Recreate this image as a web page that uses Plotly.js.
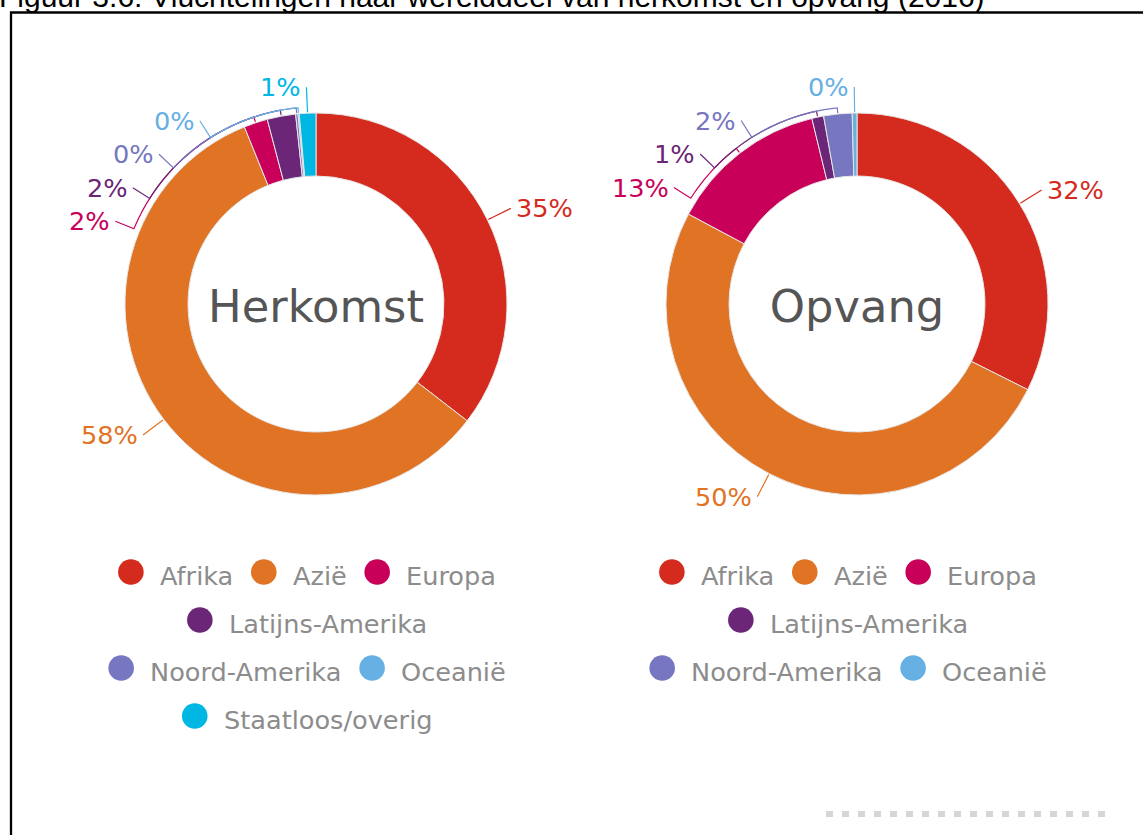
<!DOCTYPE html>
<html><head><meta charset="utf-8">
<script src="https://cdn.plot.ly/plotly-3.0.1.min.js"></script>
<style>html,body{margin:0;padding:0;background:#fff;overflow:hidden}#chart{width:1143px;height:835px}</style>
</head><body><div id="chart"></div>
<script>
// ---------------- data ----------------
const chartTitle = 'Figuur 3.6: Vluchtelingen naar werelddeel van herkomst en opvang (2016)';
const herkomstCategories = ['Afrika', 'Azië', 'Europa', 'Latijns-Amerika', 'Noord-Amerika', 'Oceanië', 'Staatloos/overig'];
const herkomstValues = [35.4, 58.3, 2.0, 2.4, 0.2, 0.1, 1.4];
const opvangCategories = ['Afrika', 'Azië', 'Europa', 'Latijns-Amerika', 'Noord-Amerika', 'Oceanië'];
const opvangValues = [32.4, 50.4, 13.4, 1.0, 2.4, 0.4];
const pieTitles = ['Herkomst', 'Opvang'];

// ---------------- styles ----------------
const colorMap = {
  'Afrika': '#d52b1e', 'Azië': '#e17325', 'Europa': '#c8005a',
  'Latijns-Amerika': '#6b2677', 'Noord-Amerika': '#7777c1',
  'Oceanië': '#66b0e4', 'Staatloos/overig': '#00b7e3'
};
const W = 1143, H = 835;
const FONT = '"DejaVu Sans", Verdana, sans-serif';
const LABEL_SIZE = 25.6, LEGEND_SIZE = 25.6, CENTER_SIZE = 44.8;
const R = 191, HOLE = 0.67, LABEL_R = R + 26, LABEL_GAP = 33.5;
const pies = [
  {cats: herkomstCategories, vals: herkomstValues, title: pieTitles[0], cx: 316, cy: 304},
  {cats: opvangCategories, vals: opvangValues, title: pieTitles[1], cx: 857, cy: 304}
];
const px = x => x / W;
const py = y => 1 - y / H;

const canvas = document.createElement('canvas');
const ctx = canvas.getContext('2d');
function textWidth(t, size) { ctx.font = size + 'px "DejaVu Sans"'; return ctx.measureText(t).width; }

const traces = [], shapes = [], annotations = [];

pies.forEach(p => {
  const colors = p.cats.map(c => colorMap[c]);
  traces.push({
    type: 'pie', labels: p.cats, values: p.vals, sort: false, direction: 'clockwise', rotation: 0,
    hole: HOLE, textinfo: 'none', hoverinfo: 'label+percent', showlegend: false,
    marker: {colors: colors, line: {color: '#e6e6e6', width: 1}},
    domain: {x: [px(p.cx - R), px(p.cx + R)], y: [py(p.cy + R), py(p.cy - R)]},
    title: {text: p.title, position: 'middle center', font: {family: FONT, size: CENTER_SIZE, color: '#555555'}}
  });

  // ---- outside percentage labels with connectors ----
  const total = p.vals.reduce((a, b) => a + b, 0);
  let cum = 0;
  const items = p.vals.map((v, i) => {
    const th = (cum + v / 2) / total * 2 * Math.PI;
    cum += v;
    return {i, th, pct: Math.round(v / total * 100) + '%', color: colors[i],
            side: Math.sin(th) >= 0 ? 1 : -1, ny: p.cy - LABEL_R * Math.cos(th)};
  });
  [1, -1].forEach(side => {
    const s = items.filter(d => d.side === side).sort((a, b) => a.ny - b.ny);
    let prev = -1e9;
    s.forEach(d => { d.y = Math.max(d.ny, prev + LABEL_GAP); prev = d.y; });
  });
  items.forEach((d, k) => {
    const dy = d.y - p.cy;
    const ax = p.cx + d.side * Math.sqrt(Math.max(0, LABEL_R * LABEL_R - dy * dy));
    const ay = d.y;
    annotations.push({
      xref: 'paper', yref: 'paper', x: px(ax + d.side * 3), y: py(ay), showarrow: false,
      xanchor: d.side > 0 ? 'left' : 'right', yanchor: 'middle',
      text: d.pct, font: {family: FONT, size: LABEL_SIZE, color: d.color}
    });
    // connector: label -> arc around donut -> slice edge
    const rr = R + 6;
    let phA = Math.atan2(ax - p.cx, p.cy - ay);
    let th = d.th;
    while (phA - th > Math.PI) phA -= 2 * Math.PI;
    while (th - phA > Math.PI) phA += 2 * Math.PI;
    const pts = [[ax, ay]];
    const steps = Math.max(1, Math.ceil(Math.abs(th - phA) / 0.03));
    for (let s = 0; s <= steps; s++) {
      const a = phA + (th - phA) * s / steps;
      pts.push([p.cx + rr * Math.sin(a), p.cy - rr * Math.cos(a)]);
    }
    pts.push([p.cx + (R + 1) * Math.sin(th), p.cy - (R + 1) * Math.cos(th)]);
    shapes.push({
      type: 'path', xref: 'paper', yref: 'paper', layer: 'above',
      path: pts.map((q, j) => (j ? 'L' : 'M') + px(q[0]) + ',' + py(q[1])).join(' '),
      line: {color: d.color, width: 1.2}
    });
  });

  // ---- legend (circles + labels), centred rows ----
  const CIRC = 25.6, TEXTGAP = 16, TRAIL = 18, MAXW = 450, ROW0 = 572, ROWH = 48;
  const rows = [[]]; let rowW = 0;
  p.cats.forEach(c => {
    const w = CIRC + TEXTGAP + textWidth(c, LEGEND_SIZE) + TRAIL;
    if (rows[rows.length - 1].length && rowW + w > MAXW) { rows.push([]); rowW = 0; }
    rows[rows.length - 1].push({c, w}); rowW += w;
  });
  rows.forEach((row, ri) => {
    const tw = row.reduce((a, b) => a + b.w, 0);
    let x = p.cx - tw / 2;
    const yc = ROW0 + ri * ROWH;
    row.forEach(it => {
      shapes.push({type: 'circle', xref: 'paper', yref: 'paper',
        x0: px(x), x1: px(x + CIRC), y0: py(yc + CIRC / 2), y1: py(yc - CIRC / 2),
        fillcolor: colorMap[it.c], line: {width: 0}});
      annotations.push({xref: 'paper', yref: 'paper', x: px(x + CIRC + TEXTGAP - 2), y: py(yc + 4),
        xanchor: 'left', yanchor: 'middle', showarrow: false, text: it.c,
        font: {family: FONT, size: LEGEND_SIZE, color: '#8c8c8c'}});
      x += it.w;
    });
  });
});

// frame and page title (cropped at top like the source)
shapes.push({type: 'path', xref: 'paper', yref: 'paper', layer: 'above',
  path: 'M1.01,' + py(12.5) + ' L' + px(11) + ',' + py(12.5) + ' L' + px(11) + ',-0.01',
  line: {color: '#000', width: 2.3}});
shapes.push({type: 'line', xref: 'paper', yref: 'paper', x0: px(826), x1: px(1114), y0: py(814), y1: py(814),
  line: {color: '#d6d6d6', width: 6, dash: '7px,9px'}});
annotations.push({xref: 'paper', yref: 'paper', x: px(-3), y: py(-4), xanchor: 'left', yanchor: 'middle',
  showarrow: false, text: chartTitle, font: {family: '"Liberation Sans", Arial, sans-serif', size: 30, color: '#000'}});

Plotly.newPlot('chart', traces, {
  width: W, height: H, margin: {l: 0, r: 0, t: 0, b: 0},
  paper_bgcolor: '#fff', plot_bgcolor: '#fff', showlegend: false,
  shapes, annotations
}, {displayModeBar: false});
</script></body></html>
